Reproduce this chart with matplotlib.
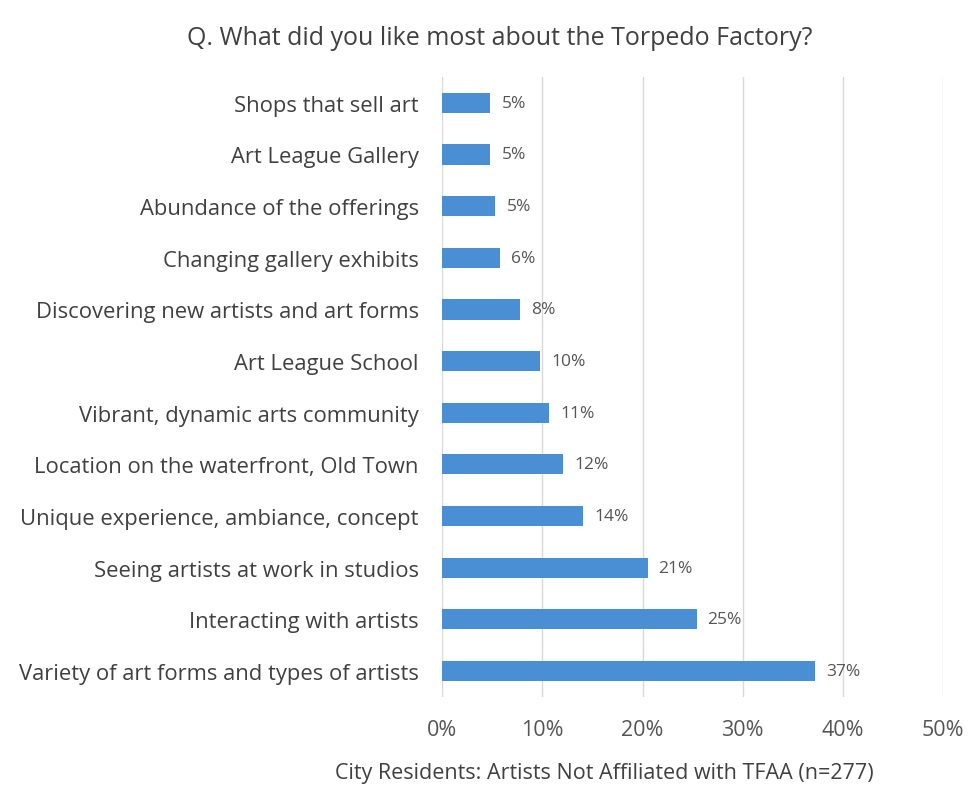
import matplotlib.pyplot as plt
from matplotlib.ticker import FuncFormatter

# Données (de haut en bas)
categories = [
    "Shops that sell art",
    "Art League Gallery",
    "Abundance of the offerings",
    "Changing gallery exhibits",
    "Discovering new artists and art forms",
    "Art League School",
    "Vibrant, dynamic arts community",
    "Location on the waterfront, Old Town",
    "Unique experience, ambiance, concept",
    "Seeing artists at work in studios",
    "Interacting with artists",
    "Variety of art forms and types of artists",
]
values = [4.8, 4.8, 5.3, 5.8, 7.8, 9.8, 10.7, 12.1, 14.1, 20.5, 25.4, 37.2]
labels = ["5%", "5%", "5%", "6%", "8%", "10%", "11%", "12%", "14%", "21%", "25%", "37%"]
xticks = [0, 10, 20, 30, 40, 50]

plt.rcParams['font.family'] = ['Open Sans', 'DejaVu Sans']
text_color = '#404040'
bar_color = '#4a8fd4'

fig = plt.figure(figsize=(9.7, 8.04), dpi=100)
ax = fig.add_axes([0.456, 0.132, 0.516, 0.771])

pos = list(range(len(categories)))
ax.barh(pos, values, height=0.39, color=bar_color, zorder=3)
for y, v, lab in zip(pos, values, labels):
    ax.text(v + 1.1, y, lab, va='center', ha='left', fontsize=12.5, color='#555555')

ax.set_xlim(0, 50)
ax.set_ylim(len(categories) - 0.5, -0.5)
ax.set_xticks(xticks)
ax.xaxis.set_major_formatter(FuncFormatter(lambda x, p: f"{x:.0f}%"))
ax.set_yticks(pos)
ax.set_yticklabels(categories)
ax.tick_params(axis='y', length=0, pad=17, labelsize=15.8, labelcolor=text_color)
ax.tick_params(axis='x', length=0, pad=16, labelsize=15.5, labelcolor='#555555')
ax.grid(axis='x', color='#d9d9d9', linewidth=1, zorder=0)
for s in ax.spines.values():
    s.set_visible(False)

# Titre de l'axe x (décalé comme dans l'original)
fig.text(0.623, 0.038, "City Residents: Artists Not Affiliated with TFAA (n=277)",
         ha='center', va='center', fontsize=15.5, color=text_color)
fig.text(0.515, 0.952, "Q. What did you like most about the Torpedo Factory?",
         ha='center', va='center', fontsize=18, color=text_color)

fig.savefig("out.png", dpi=100)
